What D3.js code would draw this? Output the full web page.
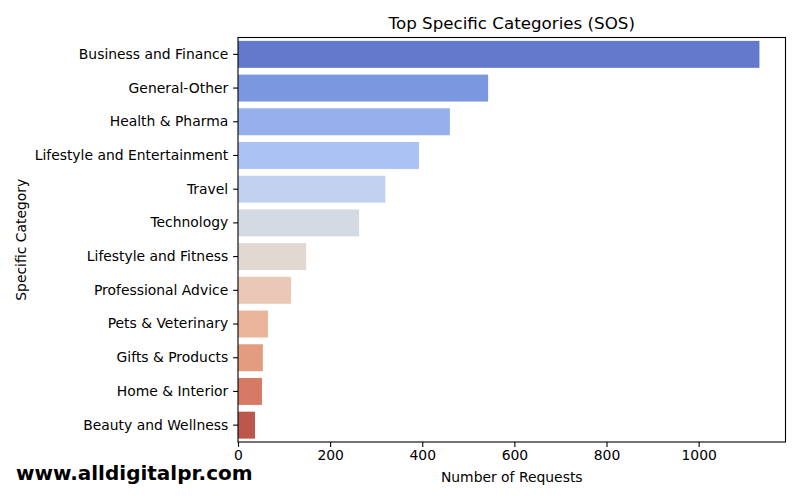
<!DOCTYPE html>
<html><head><meta charset="utf-8">
<script src="https://cdn.jsdelivr.net/npm/d3@7"></script>
<style>body{margin:0;background:#fff;} text{font-family:"DejaVu Sans",sans-serif;}</style>
</head><body><svg id="c" width="800" height="500"></svg>
<script>
const categories = ["Business and Finance","General-Other","Health & Pharma","Lifestyle and Entertainment","Travel","Technology","Lifestyle and Fitness","Professional Advice","Pets & Veterinary","Gifts & Products","Home & Interior","Beauty and Wellness"];
const values = [1132, 543, 460, 393, 320, 263, 148, 115, 65, 54, 52, 37];
const colors = ["#6379cb","#7b97e0","#95b0ec","#abc3f4","#c2d1ef","#d4dae4","#e2d8d2","#eac7b6","#ebb59c","#e49c80","#d47a65","#bd574e"];
const xTicks = [0,200,400,600,800,1000];

const svg = d3.select("#c");
const m = {l:238, r:785.5, t:37.5, b:442};
const x = d3.scaleLinear().domain([0, d3.max(values)*1.05]).range([m.l, m.r]);
const y = d3.scaleBand().domain(categories).range([m.t, m.b]).paddingInner(0.2).paddingOuter(0.1);

svg.selectAll("rect.bar").data(categories).enter().append("rect")
  .attr("x", x(0)).attr("y", d=>y(d))
  .attr("width", (d,i)=>x(values[i])-x(0)).attr("height", y.bandwidth())
  .attr("fill", (d,i)=>colors[i]);

const xa = svg.append("g").attr("transform",`translate(0,${m.b})`)
  .call(d3.axisBottom(x).tickValues(xTicks).tickFormat(d3.format("d")).tickSize(4.9).tickPadding(3.5));
xa.select(".domain").remove();
xa.selectAll("text").attr("font-size","13.9px").attr("fill","#000").style("font-family","DejaVu Sans");
xa.selectAll("line").attr("stroke","#000").attr("stroke-width",1.1);

const ya = svg.append("g").attr("transform",`translate(${m.l},0)`)
  .call(d3.axisLeft(y).tickSize(4.9).tickPadding(4.9));
ya.select(".domain").remove();
ya.selectAll("text").attr("font-size","13.9px").attr("fill","#000").style("font-family","DejaVu Sans");
ya.selectAll("line").attr("stroke","#000").attr("stroke-width",1.1);

svg.append("rect").attr("x",m.l).attr("y",m.t).attr("width",m.r-m.l).attr("height",m.b-m.t)
  .attr("fill","none").attr("stroke","#000").attr("stroke-width",1.1);

svg.append("text").attr("x",(m.l+m.r)/2).attr("y",29).attr("text-anchor","middle")
  .attr("font-size","16.7px").text("Top Specific Categories (SOS)");
svg.append("text").attr("x",(m.l+m.r)/2).attr("y",482).attr("text-anchor","middle")
  .attr("font-size","13.9px").text("Number of Requests");
svg.append("text").attr("transform",`translate(26,${(m.t+m.b)/2}) rotate(-90)`).attr("text-anchor","middle")
  .attr("font-size","13.9px").text("Specific Category");
svg.append("text").attr("x",16).attr("y",480).attr("font-size","20px").attr("font-weight","bold")
  .text("www.alldigitalpr.com");
</script></body></html>
